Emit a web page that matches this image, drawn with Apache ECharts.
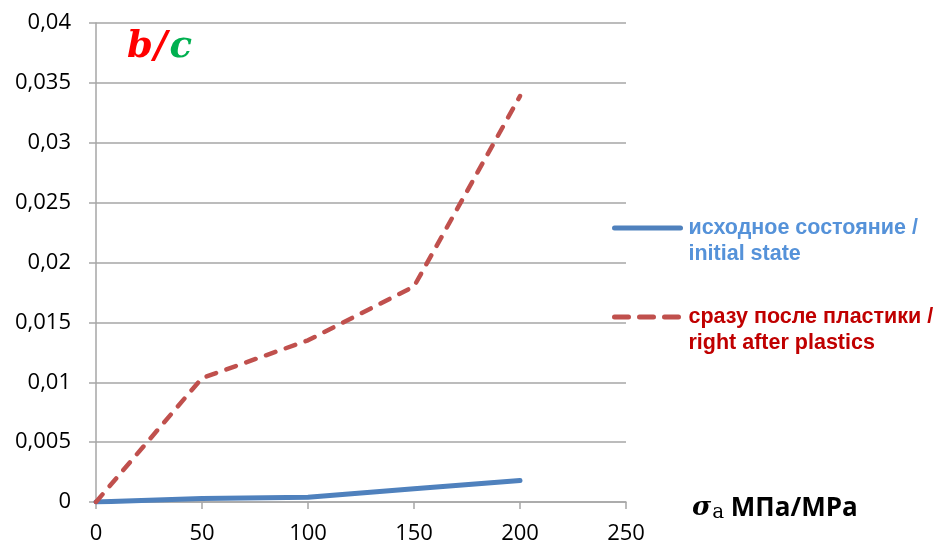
<!DOCTYPE html>
<html><head><meta charset="utf-8">
<script src="https://cdn.jsdelivr.net/npm/echarts@6/dist/echarts.min.js"></script>
<style>html,body{margin:0;padding:0;background:#fff}#c{width:941px;height:546px}</style>
</head><body><div id="c"></div>
<script>
const xValues = [0, 50, 100, 150, 200];
const initialState = [0, 0.0003, 0.0004, 0.0011, 0.0018];
const afterPlastics = [0, 0.01035, 0.0135, 0.018, 0.0339];
const seriesNames = ['исходное состояние /\ninitial state', 'сразу после пластики /\nright after plastics'];

const chart = echarts.init(document.getElementById('c'));
const grid = '#a6a6a6';
const titleFont = {fontFamily: 'DejaVu Serif', fontStyle: 'italic', fontWeight: 'bold', fontSize: 37};
chart.setOption({
  animation: false,
  backgroundColor: '#fff',
  grid: {left: 96, right: 315, top: 23, bottom: 44},
  title: {
    text: '{b|b}{s|/}{c|c}', left: 122, top: 24,
    textStyle: {rich: {
      b: Object.assign({color: '#ff0000'}, titleFont),
      s: Object.assign({color: '#ff0000', padding: [0, 2, 0, 1]}, titleFont),
      c: Object.assign({color: '#00b050'}, titleFont)
    }}
  },
  xAxis: {
    type: 'value', min: 0, max: 250, interval: 50,
    name: '{sig|σ}{sub|a}{t| МПа/MPa}', nameLocation: 'end', nameGap: 66,
    nameTextStyle: {padding: [13, 0, 0, 0], rich: {
      sig: {fontFamily: 'DejaVu Serif', fontStyle: 'italic', fontWeight: 'bold', fontSize: 26, color: '#000'},
      sub: {fontFamily: 'DejaVu Serif', fontSize: 20, color: '#000', padding: [8, 0, 0, 1]},
      t: {fontFamily: 'Open Sans', fontWeight: 'bold', fontSize: 26, color: '#000'}
    }},
    axisLine: {lineStyle: {color: grid, width: 1.5}},
    axisTick: {show: true, length: 7, lineStyle: {color: grid, width: 1.5}},
    axisLabel: {fontFamily: 'Open Sans', fontSize: 22, color: '#000', margin: 21},
    splitLine: {show: false}
  },
  yAxis: {
    type: 'value', min: 0, max: 0.04, interval: 0.005,
    axisLine: {show: true, lineStyle: {color: grid, width: 1.5}},
    axisTick: {show: true, length: 7, lineStyle: {color: grid, width: 1.5}},
    axisLabel: {fontFamily: 'Open Sans', fontSize: 22, color: '#000', margin: 25,
      formatter: v => String(+v.toFixed(3)).replace('.', ',')},
    splitLine: {lineStyle: {color: grid, width: 1.5}}
  },
  legend: {
    orient: 'vertical', left: 612, top: 189, padding: 0, itemWidth: 66, itemHeight: 14, itemGap: 11,
    formatter: n => ' \n' + n,
    data: [
      {name: seriesNames[0], textStyle: {color: '#5592d9'}, itemStyle: {opacity: 0},
        lineStyle: {width: 5, type: 'solid', cap: 'round', color: '#4f81bd'}},
      {name: seriesNames[1], textStyle: {color: '#c00000'}, itemStyle: {opacity: 0},
        lineStyle: {width: 5, type: [14, 11], cap: 'round', color: '#c0504d'}}
    ],
    textStyle: {fontFamily: 'Liberation Sans', fontWeight: 'bold', fontSize: 21.5, lineHeight: 26, padding: [0, 0, 0, 3]},
    selectedMode: false
  },
  series: [
    {name: seriesNames[0], type: 'line', symbol: 'none', data: xValues.map((x, i) => [x, initialState[i]]),
      lineStyle: {color: '#4f81bd', width: 5, cap: 'round', join: 'round'}, itemStyle: {color: '#4f81bd'}},
    {name: seriesNames[1], type: 'line', symbol: 'none', data: xValues.map((x, i) => [x, afterPlastics[i]]),
      lineStyle: {color: '#c0504d', width: 4.5, type: [10, 11], cap: 'round', join: 'round'}, itemStyle: {color: '#c0504d'}}
  ]
});
</script></body></html>
